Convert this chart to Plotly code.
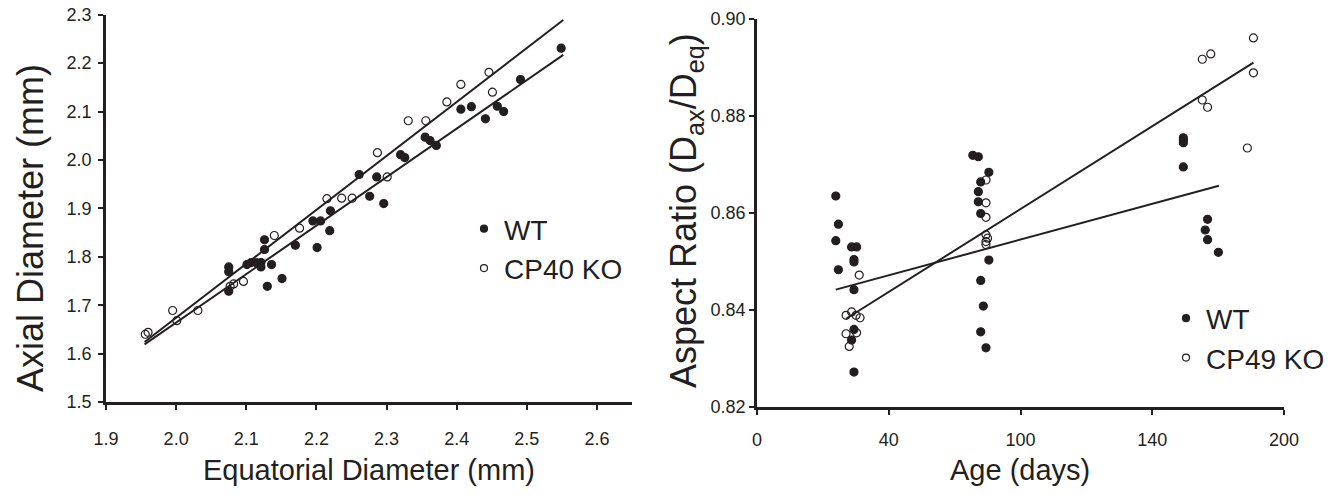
import plotly.graph_objects as go

# ---------------- Left panel: Axial vs Equatorial diameter ----------------
left_wt_x = [2.075, 2.075, 2.075, 2.101, 2.107, 2.114, 2.121, 2.121, 2.126, 2.126,
             2.130, 2.136, 2.151, 2.170, 2.195, 2.201, 2.206, 2.219, 2.220, 2.261,
             2.276, 2.286, 2.296, 2.320, 2.326, 2.355, 2.362, 2.371, 2.406, 2.421,
             2.441, 2.458, 2.467, 2.491, 2.549]
left_wt_y = [1.779, 1.769, 1.729, 1.784, 1.788, 1.788, 1.788, 1.779, 1.835, 1.815,
             1.739, 1.784, 1.755, 1.824, 1.874, 1.819, 1.874, 1.854, 1.895, 1.970,
             1.925, 1.965, 1.910, 2.011, 2.005, 2.047, 2.040, 2.030, 2.105, 2.110,
             2.085, 2.111, 2.100, 2.166, 2.231]
left_ko_x = [1.956, 1.960, 1.995, 2.001, 2.031, 2.077, 2.082, 2.096, 2.140, 2.176,
             2.215, 2.236, 2.251, 2.287, 2.301, 2.331, 2.356, 2.386, 2.406, 2.446,
             2.451]
left_ko_y = [1.640, 1.644, 1.689, 1.668, 1.689, 1.739, 1.744, 1.749, 1.844, 1.859,
             1.920, 1.921, 1.921, 2.015, 1.965, 2.081, 2.081, 2.120, 2.156, 2.181,
             2.140]
left_fit_wt_x = [1.955, 2.552]
left_fit_wt_y = [1.619, 2.217]
left_fit_ko_x = [1.955, 2.552]
left_fit_ko_y = [1.624, 2.289]
left_xticks = [1.9, 2.0, 2.1, 2.2, 2.3, 2.4, 2.5, 2.6]
left_yticks = [1.5, 1.6, 1.7, 1.8, 1.9, 2.0, 2.1, 2.2, 2.3]

# ---------------- Right panel: Aspect ratio vs age ----------------
right_wt_x = [29.9, 30.9, 29.9, 30.9, 35.9, 37.8, 36.8, 36.8, 36.8, 36.8, 35.9, 36.8,
              81.9, 84.0, 88.0, 84.9, 84.0, 84.0, 84.9, 88.0, 84.9, 85.9, 84.9, 86.9,
              161.8, 161.8, 161.8, 161.8, 171.0, 170.1, 171.0, 175.1]
right_wt_y = [0.8635, 0.8577, 0.8543, 0.8483, 0.8530, 0.8530, 0.8504, 0.8499, 0.8442,
              0.8360, 0.8338, 0.8272,
              0.8719, 0.8716, 0.8684, 0.8664, 0.8644, 0.8623, 0.8599, 0.8503, 0.8461,
              0.8408, 0.8355, 0.8322,
              0.8755, 0.8750, 0.8745, 0.8695, 0.8587, 0.8565, 0.8545, 0.8519]
right_ko_x = [38.8, 33.8, 35.9, 37.6, 39.1, 33.8, 37.8, 35.0,
              86.9, 86.9, 86.9, 86.9, 87.5, 86.9, 86.9,
              188.4, 169.0, 172.2, 188.4, 169.0, 171.0, 186.1]
right_ko_y = [0.8472, 0.8389, 0.8396, 0.8389, 0.8384, 0.8351, 0.8353, 0.8325,
              0.8668, 0.8621, 0.8591, 0.8555, 0.8548, 0.8541, 0.8535,
              0.8961, 0.8917, 0.8928, 0.8889, 0.8833, 0.8818, 0.8734]
right_fit_wt_x = [29.9, 175.3]
right_fit_wt_y = [0.8442, 0.8656]
right_fit_ko_x = [33.8, 188.4]
right_fit_ko_y = [0.8382, 0.8910]
right_xtick_pos = [0, 50, 100, 150, 200]
right_xtick_text = ["0", "40", "100", "140", "200"]
right_yticks = [0.82, 0.84, 0.86, 0.88, 0.90]

INK = "#231f20"
FONT = "Arial, Liberation Sans, sans-serif"
W, H = 1343, 495
OFF = 8  # page body margin of the html page


def fx(px):
    return (px - OFF) / W


def fy(py):
    return 1 - (py - OFF) / H


fig = go.Figure()


def dots(x, y, xa, ya, filled):
    return go.Scatter(
        x=x, y=y, xaxis=xa, yaxis=ya, mode="markers", showlegend=False,
        hoverinfo="skip", cliponaxis=False,
        marker=dict(symbol="circle" if filled else "circle-open", size=8,
                    color=INK, line=dict(color=INK, width=1.2)))


def fit(x, y, xa, ya):
    return go.Scatter(x=x, y=y, xaxis=xa, yaxis=ya, mode="lines", showlegend=False,
                      hoverinfo="skip", line=dict(color=INK, width=2))


fig.add_trace(fit(left_fit_wt_x, left_fit_wt_y, "x", "y"))
fig.add_trace(fit(left_fit_ko_x, left_fit_ko_y, "x", "y"))
fig.add_trace(dots(left_wt_x, left_wt_y, "x", "y", True))
fig.add_trace(dots(left_ko_x, left_ko_y, "x", "y", False))

fig.add_trace(fit(right_fit_wt_x, right_fit_wt_y, "x2", "y2"))
fig.add_trace(fit(right_fit_ko_x, right_fit_ko_y, "x2", "y2"))
fig.add_trace(dots(right_wt_x, right_wt_y, "x2", "y2", True))
fig.add_trace(dots(right_ko_x, right_ko_y, "x2", "y2", False))

# legend-only entries (smaller symbols as in the reference legend)
for name, filled, lg in [("WT", True, "legend"), ("CP40 KO", False, "legend"),
                         ("WT", True, "legend2"), ("CP49 KO", False, "legend2")]:
    fig.add_trace(go.Scatter(
        x=[None], y=[None], mode="markers", name=name, legend=lg,
        xaxis="x" if lg == "legend" else "x2", yaxis="y" if lg == "legend" else "y2",
        marker=dict(symbol="circle" if filled else "circle-open", size=7,
                    color=INK, line=dict(color=INK, width=1.2))))

axis_common = dict(showline=True, linecolor=INK, linewidth=2.5, ticks="outside",
                   ticklen=5, tickwidth=1.5, tickcolor=INK, showgrid=False,
                   zeroline=False, automargin=False, ticklabeloverflow="allow",
                   tickfont=dict(family=FONT, size=18, color=INK))

fig.update_layout(
    width=W, height=H, margin=dict(l=0, r=0, t=0, b=0, autoexpand=False),
    paper_bgcolor="white", plot_bgcolor="white",
    font=dict(family=FONT, color=INK),
    xaxis=dict(domain=[fx(106), fx(632)], range=[1.9, 2.65], tickvals=left_xticks,
               tickformat=".1f", anchor="y", ticklabelstandoff=14, **axis_common),
    yaxis=dict(domain=[fy(402), fy(14.7)], range=[1.5, 2.3001], tickvals=left_yticks,
               tickformat=".1f", anchor="x", ticklabelstandoff=3, **axis_common),
    xaxis2=dict(domain=[fx(757), fx(1284)], range=[0, 200], tickvals=right_xtick_pos,
                ticktext=right_xtick_text, anchor="y2", ticklabelstandoff=10,
                **axis_common),
    yaxis2=dict(domain=[fy(407), fy(19)], range=[0.82, 0.90], tickvals=right_yticks,
                tickformat=".2f", anchor="x2", ticklabelstandoff=0, **axis_common),
    legend=dict(x=fx(464), y=fy(204), xanchor="left", yanchor="top",
                font=dict(family=FONT, size=28, color=INK), bgcolor="rgba(0,0,0,0)",
                itemwidth=30, tracegroupgap=0),
    legend2=dict(x=fx(1166), y=fy(293.5), xanchor="left", yanchor="top",
                 font=dict(family=FONT, size=28, color=INK), bgcolor="rgba(0,0,0,0)",
                 itemwidth=30, tracegroupgap=0),
    annotations=[
        dict(text="Equatorial Diameter (mm)", x=fx(369), y=fy(470), xref="paper",
             yref="paper", showarrow=False, xanchor="center", yanchor="middle",
             font=dict(family=FONT, size=29, color=INK)),
        dict(text="Age (days)", x=fx(1020), y=fy(470), xref="paper", yref="paper",
             showarrow=False, xanchor="center", yanchor="middle",
             font=dict(family=FONT, size=29, color=INK)),
        dict(text="Axial Diameter (mm)", x=fx(30), y=fy(228), xref="paper",
             yref="paper", showarrow=False, textangle=-90, xanchor="center",
             yanchor="middle", font=dict(family=FONT, size=36, color=INK)),
        dict(text="Aspect Ratio (D<sub>ax</sub>/D<sub>eq</sub>)", x=fx(686),
             y=fy(211), xref="paper", yref="paper", showarrow=False,
             textangle=-90, xanchor="center", yanchor="middle",
             font=dict(family=FONT, size=36, color=INK)),
    ],
)

fig.write_html("out.html")
